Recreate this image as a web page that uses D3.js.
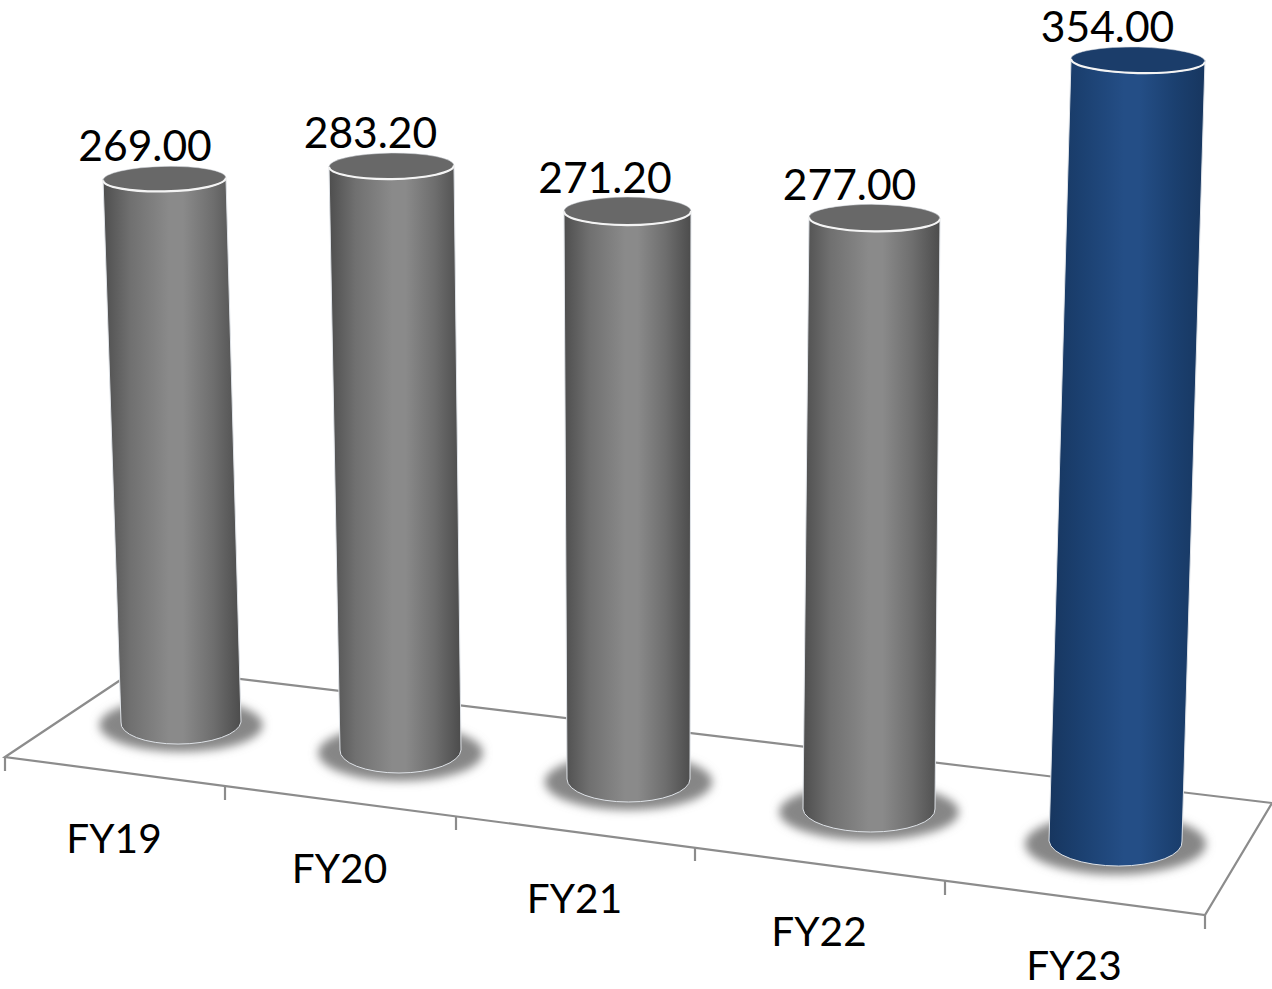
<!DOCTYPE html>
<html>
<head>
<meta charset="utf-8">
<script src="https://cdn.jsdelivr.net/npm/d3@7/dist/d3.min.js"></script>
<style>
  html, body { margin: 0; padding: 0; background: #fff; overflow: hidden; }
  text { font-family: Lato, "Open Sans", sans-serif; fill: #000; }
</style>
</head>
<body>
<svg id="chart" width="1272" height="989"></svg>
<script>
// Yearly figures shown as cylinders standing on a floor in perspective
const categories = ["FY19", "FY20", "FY21", "FY22", "FY23"];
const values = [269.00, 283.20, 271.20, 277.00, 354.00];
const barStyles = ["grey", "grey", "grey", "grey", "blue"];

const svg = d3.select("#chart");
const idx = categories.map((_, i) => i);
const edges = d3.range(categories.length + 1);

// Perspective scales: each one is indexed by category position
const baseX = d3.scaleLinear().domain(idx).range([181, 400.5, 628.5, 869, 1115.5]);
const baseY = d3.scaleLinear().domain(idx).range([722, 750, 779, 809, 841]);
const pixelsPerUnit = d3.scaleLinear().domain(idx).range([2.019, 2.062, 2.094, 2.134, 2.206]);
const baseHalfWidth = d3.scaleLinear().domain(idx).range([60, 60.5, 61.5, 66, 66.5]);
const topHalfWidth = d3.scaleLinear().domain(idx).range([61.5, 62.5, 63.5, 65.5, 67]);
const baseRy = d3.scaleLinear().domain(idx).range([22, 23, 23, 23, 25]);
const topRy = d3.scaleLinear().domain(idx).range([12.5, 13, 14, 13.5, 13]);
const labelShift = d3.scaleLinear().domain(idx).range([-19.5, -21, -22.5, -25, -30.5]);

// Sideways lean of each cylinder per unit of value, from its outward perspective
const leanPerUnit = d3.scaleLinear().domain(idx).range([-0.0613, -0.0318, -0.0037, 0.0199, 0.0636]);

// Front edge of the floor
const frontX = d3.scaleLinear().domain(edges).range([5, 225, 456, 695, 945, 1205]);
const frontY = d3.scaleLinear().domain(edges).range([757, 786, 816, 847, 881, 915]);

const tilt = d3.scaleLinear().domain([181, 1115]).range([-1.2, 1.2]);

const geometry = values.map((v, i) => {
  const h = v * pixelsPerUnit(i);
  const bx = baseX(i), by = baseY(i);
  return {
    i, v, bx, by,
    tx: bx + v * leanPerUnit(i),
    ty: by - h,
    bw: baseHalfWidth(i), tw: topHalfWidth(i),
    bry: baseRy(i), tryy: topRy(i),
    style: barStyles[i]
  };
});

const defs = svg.append("defs");
const palettes = {
  grey: { stops: ["#4e4e4e", "#707070", "#8a8a8a", "#8a8a8a", "#6e6e6e", "#4c4c4c"], top: "#686868" },
  blue: { stops: ["#17365f", "#1b4070", "#244e86", "#244e86", "#1b4070", "#17365f"], top: "#1b3d6a" }
};
const offsets = [0, 0.2, 0.48, 0.58, 0.8, 1];
Object.entries(palettes).forEach(([name, p]) => {
  const g = defs.append("linearGradient").attr("id", "body-" + name)
    .attr("x1", 0).attr("x2", 1).attr("y1", 0).attr("y2", 0);
  p.stops.forEach((c, k) => g.append("stop").attr("offset", offsets[k]).attr("stop-color", c));
});
defs.append("filter").attr("id", "soft")
  .attr("x", "-30%").attr("y", "-50%").attr("width", "160%").attr("height", "200%")
  .append("feGaussianBlur").attr("stdDeviation", 5);

// Floor outline and tick marks
const floor = svg.append("g").attr("fill", "none").attr("stroke", "#8c8c8c").attr("stroke-width", 2.2);
const backLeft = [140, 667], backRight = [1272, 803];
floor.append("path").attr("d", d3.line()([
  [frontX(0), frontY(0)], backLeft, backRight, [frontX(5), frontY(5)]
]) + "Z").attr("stroke-linejoin", "miter");
floor.selectAll("line.tick").data(edges).join("line")
  .attr("class", "tick")
  .attr("x1", d => frontX(d)).attr("x2", d => frontX(d))
  .attr("y1", d => frontY(d)).attr("y2", d => frontY(d) + 14);

// Soft contact shadows under each cylinder
svg.append("g").selectAll("ellipse").data(geometry).join("ellipse")
  .attr("cx", d => d.bx)
  .attr("cy", d => d.by + 3)
  .attr("rx", d => d.bw * 1.36)
  .attr("ry", d => d.bry * 1.22)
  .attr("fill", "#868686")
  .attr("filter", "url(#soft)");

const bars = svg.append("g").selectAll("g").data(geometry).join("g");

// Cylinder wall
bars.append("path")
  .attr("d", d => `M${d.tx - d.tw},${d.ty} L${d.bx - d.bw},${d.by}
    A${d.bw},${d.bry} ${tilt(d.bx)} 0 0 ${d.bx + d.bw},${d.by}
    L${d.tx + d.tw},${d.ty}
    A${d.tw},${d.tryy} ${tilt(d.bx)} 0 1 ${d.tx - d.tw},${d.ty}Z`)
  .attr("fill", d => `url(#body-${d.style})`)
  .attr("stroke", "#dfe3e8")
  .attr("stroke-width", 1);

// Open top, with the bright rim along its front edge
bars.append("ellipse")
  .attr("cx", 0).attr("cy", 0)
  .attr("rx", d => d.tw).attr("ry", d => d.tryy)
  .attr("transform", d => `translate(${d.tx},${d.ty}) rotate(${tilt(d.bx)})`)
  .attr("fill", d => palettes[d.style].top)
  .attr("stroke", "#d8dce2").attr("stroke-width", 0.5);
bars.append("path")
  .attr("d", d => `M${-d.tw},0 A${d.tw},${d.tryy} 0 0 0 ${d.tw},0`)
  .attr("transform", d => `translate(${d.tx},${d.ty}) rotate(${tilt(d.bx)})`)
  .attr("fill", "none").attr("stroke", "#f4f4f4").attr("stroke-width", 2.2);

// Value labels above each cylinder
svg.append("g").selectAll("text").data(geometry).join("text")
  .attr("x", d => d.tx + labelShift(d.i))
  .attr("y", d => d.ty - 18)
  .attr("text-anchor", "middle")
  .attr("font-size", 42.6)
  .text(d => d.v.toFixed(2));

// Category labels, centred on each span of the front edge
svg.append("g").selectAll("text").data(categories).join("text")
  .attr("x", (d, i) => (frontX(i) + frontX(i + 1)) / 2 - 1)
  .attr("y", (d, i) => (frontY(i) + frontY(i + 1)) / 2 + 81.5)
  .attr("text-anchor", "middle")
  .attr("font-size", 40.6)
  .text(d => d);
</script>
</body>
</html>
